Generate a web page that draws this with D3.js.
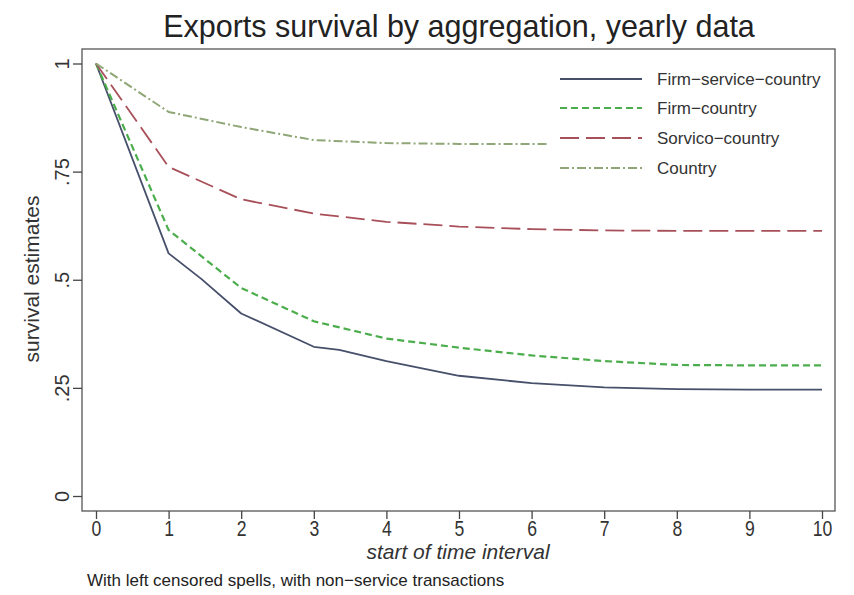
<!DOCTYPE html>
<html>
<head>
<meta charset="utf-8">
<script src="https://cdn.jsdelivr.net/npm/d3@7"></script>
<style>
  html, body { margin: 0; padding: 0; background: #fff; }
  svg { display: block; font-family: "Liberation Sans", Arial, sans-serif; }
</style>
</head>
<body>
<svg id="chart" width="854" height="595"></svg>
<script>
// ---- data ----
const xTicks = [0, 1, 2, 3, 4, 5, 6, 7, 8, 9, 10];
const yTicks = [0, 0.25, 0.5, 0.75, 1];
const yTickLabels = ["0", ".25", ".5", ".75", "1"];

const fscX = [0, 1, 1.45, 2, 3, 3.35, 4, 5, 6, 7, 8, 9, 10];
const fscY = [1, 0.561, 0.502, 0.422, 0.345, 0.338, 0.312, 0.278, 0.261, 0.251, 0.247, 0.246, 0.246];

const fcX = [0, 1, 2, 3, 4, 5, 6, 7, 8, 9, 10];
const fcY = [1, 0.615, 0.481, 0.404, 0.364, 0.343, 0.325, 0.312, 0.303, 0.302, 0.302];

const scX = [0, 1, 2, 3, 4, 5, 6, 7, 8, 9, 10];
const scY = [1, 0.761, 0.686, 0.653, 0.634, 0.623, 0.617, 0.614, 0.613, 0.613, 0.613];

const cX = [0, 1, 2, 3, 4, 5, 6, 7, 8, 9, 10];
const cY = [1, 0.888, 0.853, 0.823, 0.816, 0.814, 0.814, 0.814, 0.814, 0.814, 0.814];

const seriesNames = ["Firm\u2212service\u2212country", "Firm\u2212country", "Sorvico\u2212country", "Country"];

const titleText = "Exports survival by aggregation, yearly data";
const xTitle = "start of time interval";
const yTitle = "survival estimates";
const noteText = "With left censored spells, with non\u2212service transactions";

// ---- styles ----
const styles = [
  { color: "#46506a", dash: null, width: 1.8 },
  { color: "#4cad4c", dash: "7,4", width: 2.2 },
  { color: "#a8505a", dash: "19,7", width: 1.8 },
  { color: "#8fa676", dash: "9,3,2,3", width: 2 }
];
const seriesData = [
  fscX.map((x, i) => [x, fscY[i]]),
  fcX.map((x, i) => [x, fcY[i]]),
  scX.map((x, i) => [x, scY[i]]),
  cX.map((x, i) => [x, cY[i]])
];

const svg = d3.select("#chart");
const frame = { left: 82, right: 835, top: 49, bottom: 511 };

const x = d3.scaleLinear().domain([0, 10]).range([96, 822]);
const y = d3.scaleLinear().domain([0, 1]).range([496, 63.5]);

// frame
svg.append("rect")
  .attr("x", frame.left).attr("y", frame.top)
  .attr("width", frame.right - frame.left).attr("height", frame.bottom - frame.top)
  .attr("fill", "none").attr("stroke", "#555").attr("stroke-width", 1.3);

// lines
const line = d3.line().x(d => x(d[0])).y(d => y(d[1]));
const plot = svg.append("g");
seriesData.forEach((d, i) => {
  plot.append("path")
    .datum(d)
    .attr("d", line)
    .attr("fill", "none")
    .attr("stroke", styles[i].color)
    .attr("stroke-width", styles[i].width)
    .attr("stroke-dasharray", styles[i].dash)
    .attr("stroke-linejoin", "round");
});

// x axis
const xAxis = d3.axisBottom(x).tickValues(xTicks).tickSize(8).tickPadding(3).tickFormat(d3.format("d"));
const gx = svg.append("g").attr("transform", `translate(0,${frame.bottom})`).call(xAxis);
gx.select(".domain").remove();
gx.selectAll(".tick line").attr("stroke", "#444").attr("stroke-width", 1.3);
gx.selectAll(".tick text")
  .attr("font-size", 20).attr("fill", "#333")
  .attr("font-family", "Liberation Sans, sans-serif")
  .attr("y", 0).attr("dy", "0.71em")
  .attr("transform", "translate(0,9) scale(0.88,1.12)");

// y axis
const yAxis = d3.axisLeft(y).tickValues(yTicks).tickSize(9).tickPadding(6)
  .tickFormat((d, i) => yTickLabels[i]);
const gy = svg.append("g").attr("transform", `translate(${frame.left},0)`).call(yAxis);
gy.select(".domain").remove();
gy.selectAll(".tick line").attr("stroke", "#444").attr("stroke-width", 1.3);
gy.selectAll(".tick text")
  .attr("font-size", 20).attr("fill", "#333")
  .attr("font-family", "Liberation Sans, sans-serif")
  .attr("text-anchor", "middle")
  .attr("x", null).attr("dy", null)
  .attr("transform", "translate(-20,0) rotate(-90)")
  .attr("y", 0).attr("dy", "0.35em");

// legend
const leg = svg.append("g");
leg.append("rect").attr("x", 549).attr("y", 58).attr("width", 284).attr("height", 126).attr("fill", "#fff");
const legY = [79, 108, 138, 168];
seriesNames.forEach((name, i) => {
  leg.append("line")
    .attr("x1", 560).attr("x2", 642).attr("y1", legY[i]).attr("y2", legY[i])
    .attr("stroke", styles[i].color).attr("stroke-width", styles[i].width)
    .attr("stroke-dasharray", styles[i].dash);
  leg.append("text")
    .attr("x", 657).attr("y", legY[i]).attr("dy", "0.35em")
    .attr("font-size", 17).attr("fill", "#333")
    .text(name);
});

// titles
svg.append("text").attr("x", 459).attr("y", 37).attr("text-anchor", "middle")
  .attr("font-size", 30.5).attr("fill", "#222").text(titleText);
svg.append("text").attr("x", 458).attr("y", 559).attr("text-anchor", "middle")
  .attr("font-size", 21).attr("font-style", "italic").attr("fill", "#333").text(xTitle);
svg.append("text").attr("transform", "translate(39,279) rotate(-90)").attr("text-anchor", "middle")
  .attr("font-size", 21).attr("fill", "#333").text(yTitle);
svg.append("text").attr("x", 87).attr("y", 586)
  .attr("font-size", 17).attr("fill", "#222").text(noteText);
</script>
</body>
</html>
